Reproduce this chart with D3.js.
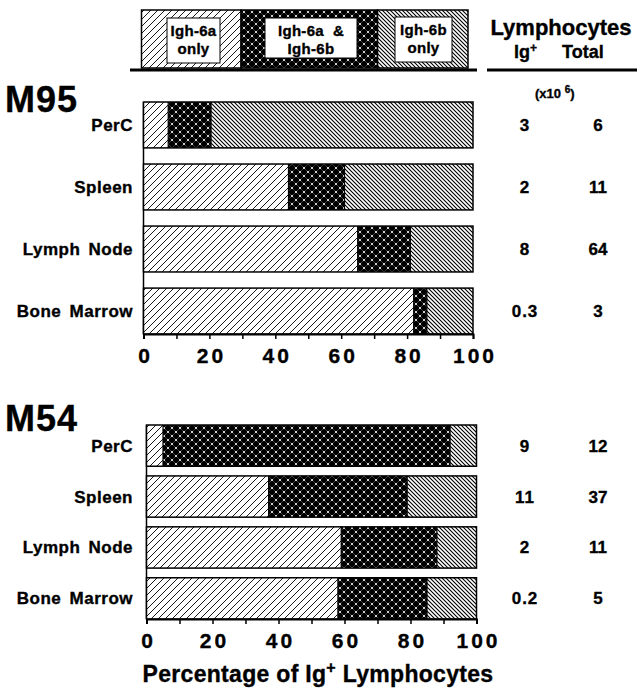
<!DOCTYPE html>
<html>
<head>
<meta charset="utf-8">
<script src="https://cdn.jsdelivr.net/npm/d3@7"></script>
<style>
  body { margin: 0; background: #fff; }
  text { font-family: "Liberation Sans", Arial, sans-serif; font-weight: bold; fill: #000; stroke: #000; stroke-width: 0.35px; }
</style>
</head>
<body>
<div id="chart"></div>
<script>
// data (percent of Ig+ lymphocytes)
const tissues = ["PerC", "Spleen", "Lymph Node", "Bone Marrow"];
const groups = ["Igh-6a only", "Igh-6a & Igh-6b", "Igh-6b only"];

const m95_only6a = [7.5, 44, 65, 82];
const m95_both   = [13, 17, 16, 4];
const m95_only6b = [79.5, 39, 19, 14];
const m95_igPos  = ["3", "2", "8", "0.3"];
const m95_total  = ["6", "11", "64", "3"];

const m54_only6a = [5, 37, 59, 58];
const m54_both   = [87, 42, 29, 27];
const m54_only6b = [8, 21, 12, 15];
const m54_igPos  = ["9", "11", "2", "0.2"];
const m54_total  = ["12", "37", "11", "5"];

const tickValues = [0, 20, 40, 60, 80, 100];

const W = 638, H = 689;
const svg = d3.select("#chart").append("svg")
    .attr("width", W)
    .attr("height", H);

// patterns
const defs = svg.append("defs");
function hatch(id, size, forward) {
    let p = defs.append("pattern")
        .attr("id", id)
        .attr("patternUnits", "userSpaceOnUse")
        .attr("width", size)
        .attr("height", size);
    p.append("rect").attr("width", size).attr("height", size).attr("fill", "#fff");
    let s = size;
    let d = forward
        ? `M0,${s} L${s},0 M${-1},1 L1,${-1} M${s - 1},${s + 1} L${s + 1},${s - 1}`
        : `M0,0 L${s},${s} M${s - 1},${-1} L${s + 1},1 M${-1},${s - 1} L1,${s + 1}`;
    p.append("path").attr("d", d).attr("stroke", "#000").attr("stroke-width", forward ? 0.9 : 1.1);
}
hatch("pat6a", 7, true);
hatch("pat6b", 4, false);

let dots = defs.append("pattern")
    .attr("id", "patBoth")
    .attr("patternUnits", "userSpaceOnUse")
    .attr("width", 8)
    .attr("height", 8);
dots.append("rect").attr("width", 8).attr("height", 8).attr("fill", "#000");
dots.append("path")
    .attr("d", "M0,0 L8,8 M8,0 L0,8")
    .attr("stroke", "#fff").attr("stroke-opacity", 0.4).attr("stroke-width", 0.6);
[[0, 0], [8, 0], [0, 8], [8, 8], [4, 4]].forEach(c => {
    dots.append("circle").attr("cx", c[0]).attr("cy", c[1]).attr("r", 1).attr("fill", "#fff");
});
const fills = ["url(#pat6a)", "url(#patBoth)", "url(#pat6b)"];

// legend header
const legX = d3.scaleLinear().domain([0, 100]).range([141.5, 468]);
const legendBreaks = [0, 30.5, 72.3, 100];
groups.forEach((g, i) => {
    svg.append("rect")
        .attr("x", legX(legendBreaks[i]))
        .attr("y", 10)
        .attr("width", legX(legendBreaks[i + 1]) - legX(legendBreaks[i]))
        .attr("height", 58)
        .attr("fill", fills[i])
        .attr("stroke", "#000")
        .attr("stroke-width", 1.5);
});
const legBoxes = [
    {x: 167, y: 18, w: 53, h: 45, lines: ["Igh-6a", "only"]},
    {x: 265, y: 18, w: 92, h: 40, lines: ["Igh-6a  &", "Igh-6b"]},
    {x: 395, y: 17, w: 57, h: 45, lines: ["Igh-6b", "only"]}
];
legBoxes.forEach(b => {
    svg.append("rect")
        .attr("x", b.x).attr("y", b.y).attr("width", b.w).attr("height", b.h)
        .attr("fill", "#fff").attr("stroke", "#000").attr("stroke-width", 1);
    b.lines.forEach((t, j) => {
        svg.append("text")
            .attr("x", b.x + b.w / 2)
            .attr("y", b.y + 18 + j * 18)
            .attr("text-anchor", "middle")
            .style("font-size", "15px")
            .style("letter-spacing", "0.3px")
            .style("white-space", "pre")
            .text(t);
    });
});
svg.append("line")
    .attr("x1", 130).attr("x2", 477)
    .attr("y1", 70).attr("y2", 70)
    .attr("stroke", "#000").attr("stroke-width", 3);

// right header
svg.append("text")
    .attr("x", 561).attr("y", 35)
    .attr("text-anchor", "middle")
    .style("font-size", "22px")
    .text("Lymphocytes");
let igHead = svg.append("text")
    .attr("x", 514).attr("y", 58)
    .style("font-size", "18px");
igHead.append("tspan").text("Ig");
igHead.append("tspan").attr("dy", -6).style("font-size", "12px").text("+");
svg.append("text")
    .attr("x", 562).attr("y", 58)
    .style("font-size", "18px")
    .text("Total");
svg.append("line")
    .attr("x1", 487).attr("x2", 637)
    .attr("y1", 70).attr("y2", 70)
    .attr("stroke", "#000").attr("stroke-width", 3);
let unit = svg.append("text")
    .attr("x", 535).attr("y", 98)
    .style("font-size", "13px");
unit.append("tspan").text("(x10 ");
unit.append("tspan").attr("dy", -5).style("font-size", "10px").text("6");
unit.append("tspan").attr("dy", 5).text(")");

function drawPanel(cfg) {
    const x = d3.scaleLinear().domain([0, 100]).range(cfg.xRange);
    const y = d3.scaleBand().domain(tissues).range(cfg.yRange).paddingInner(cfg.pad);
    const g = svg.append("g");

    svg.append("text")
        .attr("x", 5).attr("y", cfg.titleY)
        .style("font-size", "36px")
        .style("letter-spacing", "1px")
        .text(cfg.name);

    // left vertical line
    g.append("line")
        .attr("x1", x(0)).attr("x2", x(0))
        .attr("y1", cfg.yRange[0]).attr("y2", cfg.yRange[1])
        .attr("stroke", "#000").attr("stroke-width", 1.5);

    const series = [cfg.a, cfg.both, cfg.b];
    tissues.forEach((t, i) => {
        let start = 0;
        series.forEach((s, k) => {
            g.append("rect")
                .attr("x", x(start))
                .attr("y", y(t))
                .attr("width", x(start + s[i]) - x(start))
                .attr("height", y.bandwidth())
                .attr("fill", fills[k]);
            start += s[i];
        });
        g.append("rect")
            .attr("x", x(0))
            .attr("y", y(t))
            .attr("width", x(100) - x(0))
            .attr("height", y.bandwidth())
            .attr("fill", "none")
            .attr("stroke", "#000")
            .attr("stroke-width", 1.5);
        // separators between segments
        let acc = 0;
        series.slice(0, 2).forEach(s => {
            acc += s[i];
            g.append("line")
                .attr("x1", x(acc)).attr("x2", x(acc))
                .attr("y1", y(t)).attr("y2", y(t) + y.bandwidth())
                .attr("stroke", "#000").attr("stroke-width", 1.2);
        });

        svg.append("text")
            .attr("x", 133)
            .attr("y", y(t) + y.bandwidth() / 2 + 6)
            .attr("text-anchor", "end")
            .style("font-size", "17px")
            .style("letter-spacing", "0.5px")
            .style("word-spacing", "3px")
            .text(t);
        svg.append("text")
            .attr("x", 525)
            .attr("y", y(t) + y.bandwidth() / 2 + 6)
            .attr("text-anchor", "middle")
            .style("font-size", "17px")
            .style("letter-spacing", "1px")
            .text(cfg.ig[i]);
        svg.append("text")
            .attr("x", 598)
            .attr("y", y(t) + y.bandwidth() / 2 + 6)
            .attr("text-anchor", "middle")
            .style("font-size", "17px")
            .text(cfg.tot[i]);
    });

    // x axis
    const axis = g.append("g")
        .attr("transform", `translate(0,${cfg.yRange[1]})`)
        .call(d3.axisBottom(x).ticks(10).tickSize(5).tickFormat(""));
    axis.select(".domain").attr("stroke-width", 2);
    axis.selectAll(".tick line").attr("stroke-width", 1.5);

    svg.selectAll(null)
        .data(tickValues)
        .enter().append("text")
        .attr("x", d => x(d) + 2)
        .attr("y", cfg.yRange[1] + 29)
        .attr("text-anchor", "middle")
        .style("font-size", "21px")
        .style("letter-spacing", "3px")
        .text(d => d);
}

drawPanel({
    name: "M95", titleY: 112,
    xRange: [143.5, 473], yRange: [102, 334], pad: 0.26,
    a: m95_only6a, both: m95_both, b: m95_only6b,
    ig: m95_igPos, tot: m95_total
});
drawPanel({
    name: "M54", titleY: 431,
    xRange: [146.5, 476.5], yRange: [425, 619], pad: 0.19,
    a: m54_only6a, both: m54_both, b: m54_only6b,
    ig: m54_igPos, tot: m54_total
});

// axis title
let title = svg.append("text")
    .attr("x", 318).attr("y", 682)
    .attr("text-anchor", "middle")
    .style("font-size", "23px")
    .style("letter-spacing", "0.3px");
title.append("tspan").text("Percentage of Ig");
title.append("tspan").attr("dy", -9).style("font-size", "16px").text("+");
title.append("tspan").attr("dy", 9).text(" Lymphocytes");
</script>
</body>
</html>
